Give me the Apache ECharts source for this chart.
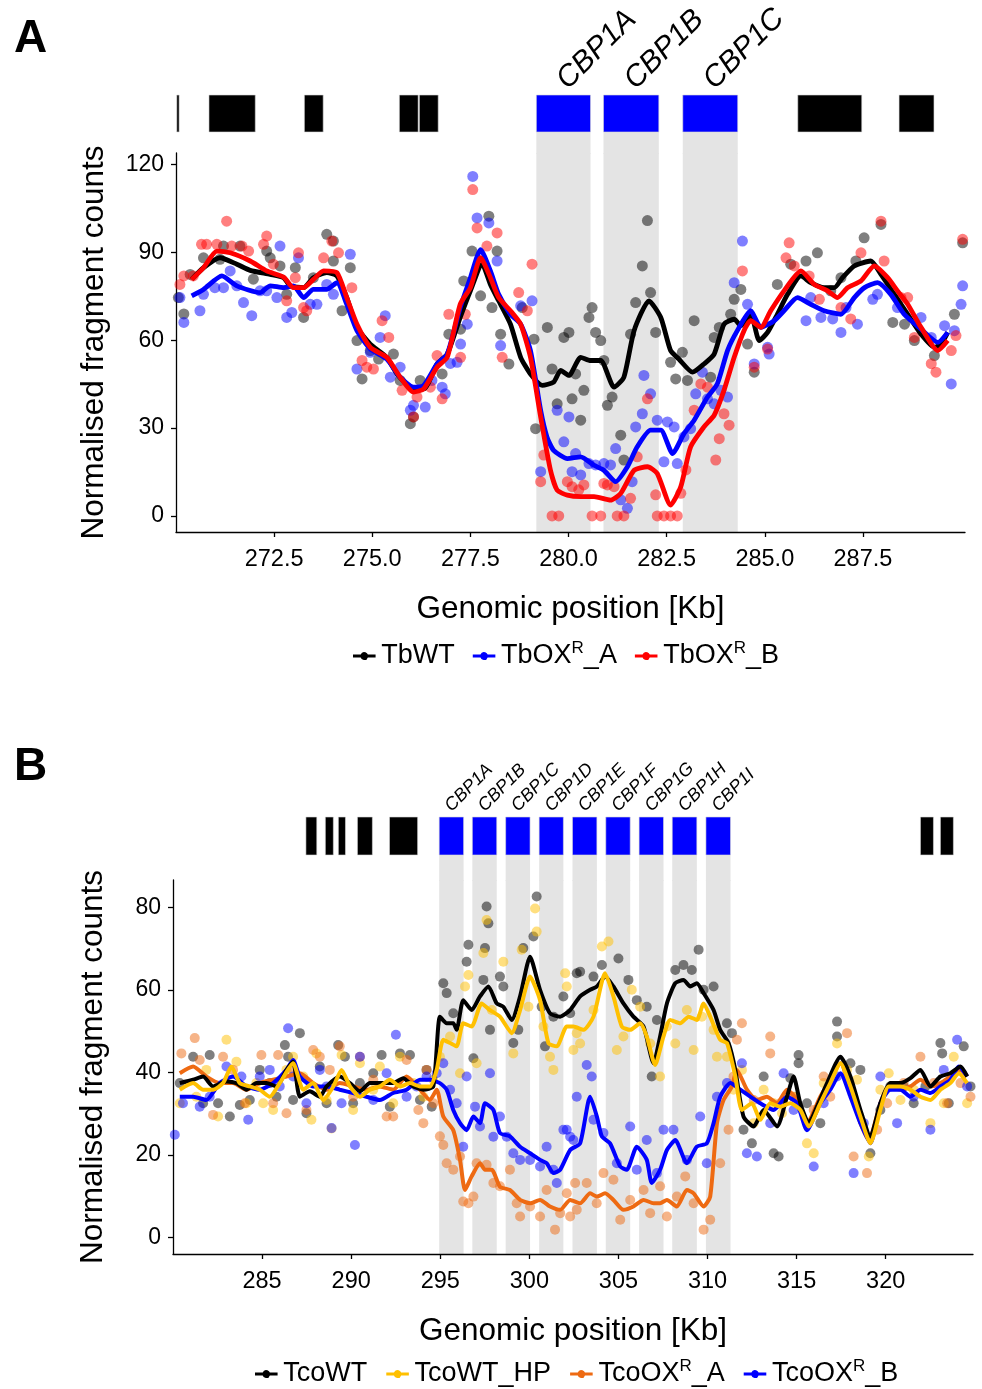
<!DOCTYPE html>
<html><head><meta charset="utf-8">
<script src="https://cdn.jsdelivr.net/npm/echarts@6/dist/echarts.min.js"></script>
<style>html,body{margin:0;padding:0;background:#fff}#c{width:982px;height:1389px}</style>
</head><body><div id="c"></div><script>
// ---------------- Panel A data ----------------
const xTicksA = [272.5, 275.0, 277.5, 280.0, 282.5, 285.0, 287.5];
const yTicksA = [0, 30, 60, 90, 120];
const blackGenesA = [[270.02,270.08],[270.84,272.02],[273.27,273.75],[275.69,276.17],[276.20,276.68],[285.84,287.47],[288.42,289.31]];
const cbpA = [[279.18,280.56,'CBP1A'],[280.89,282.30,'CBP1B'],[282.91,284.31,'CBP1C']];

const tbwtLine = [[270.40,80.8],[270.70,84.8],[271.12,88.2],[271.55,86.0],[271.89,83.9],[272.40,82.5],[272.74,81.4],[272.91,78.6],[273.25,78.0],[273.50,81.4],[273.84,83.1],[274.10,82.0],[274.35,74.6],[274.61,64.4],[274.95,58.7],[275.37,54.2],[275.63,48.5],[275.97,44.0],[276.31,43.4],[276.65,51.9],[276.91,55.3],[277.24,67.8],[277.50,76.9],[277.80,86.0],[278.01,79.1],[278.22,73.5],[278.52,65.5],[278.78,54.2],[279.03,48.5],[279.33,44.6],[279.62,45.7],[279.80,49.7],[280.01,48.0],[280.31,54.2],[280.56,53.1],[280.82,53.1],[281.16,44.0],[281.41,47.4],[281.67,63.3],[282.05,73.5],[282.35,67.8],[282.60,56.5],[282.81,53.6],[283.16,49.1],[283.45,51.9],[283.71,55.3],[283.96,65.5],[284.22,67.2],[284.39,65.0],[284.64,68.9],[284.86,59.9],[285.07,62.7],[285.32,68.9],[285.58,75.7],[285.92,82.0],[286.17,79.7],[286.51,78.0],[286.77,78.0],[286.98,81.4],[287.28,85.4],[287.70,87.1],[287.96,82.5],[288.30,75.7],[288.64,68.9],[288.98,62.1],[289.32,57.6],[289.49,58.7],[289.66,62.7]];
const tboxaLine = [[270.40,75.2],[270.70,77.4],[271.17,82.0],[271.55,78.6],[272.14,76.3],[272.40,78.6],[272.74,78.0],[272.99,78.6],[273.25,74.6],[273.50,77.4],[273.84,77.4],[274.10,79.7],[274.35,72.3],[274.61,63.3],[274.95,57.0],[275.37,53.6],[275.71,47.4],[276.05,44.0],[276.31,44.6],[276.65,51.9],[276.91,55.3],[277.24,71.2],[277.50,81.4],[277.76,91.0],[278.01,83.7],[278.22,75.7],[278.52,68.9],[278.78,65.5],[279.03,56.5],[279.29,36.0],[279.45,27.0],[279.62,22.4],[279.97,19.6],[280.31,20.2],[280.65,17.3],[280.90,15.6],[281.20,11.7],[281.50,16.8],[281.75,23.6],[282.09,29.3],[282.35,29.3],[282.65,21.3],[282.94,28.1],[283.20,32.7],[283.54,40.6],[283.79,45.1],[284.05,56.5],[284.30,63.3],[284.64,70.1],[284.90,64.4],[285.24,66.7],[285.49,70.1],[285.83,74.6],[286.17,72.3],[286.51,70.1],[286.94,68.9],[287.28,74.6],[287.54,78.0],[287.87,79.7],[288.21,75.7],[288.55,68.9],[288.98,63.8],[289.41,59.3],[289.66,62.7]];
const tboxbLine = [[270.40,80.8],[270.70,84.8],[271.04,90.5],[271.38,89.9],[271.89,87.1],[272.31,83.7],[272.74,81.6],[272.99,78.0],[273.25,78.0],[273.50,80.8],[273.76,83.7],[274.10,83.1],[274.35,74.6],[274.61,65.5],[274.95,57.6],[275.37,54.2],[275.71,47.4],[276.05,42.3],[276.31,43.4],[276.65,50.8],[276.91,54.2],[277.24,72.3],[277.50,78.0],[277.76,88.2],[278.01,81.4],[278.22,74.6],[278.52,70.1],[278.78,65.5],[279.03,54.2],[279.29,33.8],[279.54,15.6],[279.71,8.8],[279.97,7.1],[280.31,6.6],[280.65,6.6],[281.07,5.4],[281.33,7.7],[281.67,15.6],[282.01,16.8],[282.26,14.5],[282.60,3.7],[282.86,10.0],[283.11,23.6],[283.45,30.4],[283.71,34.4],[283.96,42.9],[284.22,54.2],[284.47,63.3],[284.64,66.7],[284.90,64.4],[285.15,70.1],[285.49,76.9],[285.92,83.7],[286.26,79.1],[286.60,76.9],[286.85,74.6],[287.11,78.0],[287.45,80.3],[287.79,85.4],[288.13,81.4],[288.38,76.9],[288.64,72.3],[288.98,64.4],[289.41,56.5],[289.66,59.9]];

const tbwtPts = [[270.06,74.6],[270.20,69.0],[270.36,82.5],[270.70,88.2],[271.12,87.7],[271.21,92.2],[271.63,92.2],[271.97,80.9],[272.31,90.5],[272.40,88.2],[272.65,85.4],[272.82,75.7],[273.04,84.8],[273.25,67.8],[273.50,81.4],[273.84,96.2],[274.01,93.9],[274.01,87.1],[274.23,70.1],[274.44,84.8],[274.61,59.9],[274.74,46.8],[274.95,56.5],[275.16,53.6],[275.54,55.3],[275.71,46.3],[275.97,31.5],[276.05,33.8],[276.22,46.3],[276.78,48.5],[276.95,62.1],[277.25,63.8],[277.33,80.3],[277.54,90.5],[277.76,75.2],[277.97,102.4],[278.05,71.2],[278.18,90.5],[278.27,62.1],[278.48,51.9],[278.82,71.2],[279.12,60.4],[279.16,29.8],[279.46,64.4],[279.58,50.2],[279.71,38.3],[279.88,61.0],[280.01,62.7],[280.09,40.0],[280.18,48.5],[280.31,32.7],[280.39,42.9],[280.52,67.8],[280.60,71.2],[280.69,62.7],[280.82,59.9],[280.90,53.1],[280.99,37.8],[281.11,40.6],[281.33,27.6],[281.41,19.1],[281.58,62.1],[281.71,72.9],[281.88,85.4],[282.01,100.9],[282.09,76.3],[282.22,62.7],[282.60,52.5],[282.73,46.8],[282.90,55.9],[283.03,46.3],[283.20,66.7],[283.62,47.4],[283.71,61.0],[283.84,64.4],[284.13,68.9],[284.22,74.0],[284.39,77.4],[284.56,58.7],[284.73,49.1],[285.32,79.1],[285.66,86.0],[286.05,87.1],[286.34,89.9],[286.68,76.9],[286.94,81.4],[287.32,87.1],[287.53,95.0],[287.96,99.6],[288.26,66.1],[288.56,65.5],[288.81,59.9],[289.32,54.8],[289.83,68.9],[290.04,93.3]];
const tboxaPts = [[270.10,74.6],[270.20,66.1],[270.61,70.1],[270.70,75.7],[270.99,78.0],[271.21,78.0],[271.38,83.7],[271.55,78.6],[271.72,72.9],[271.93,68.4],[272.14,76.9],[272.31,76.9],[272.57,74.6],[272.65,92.2],[272.82,67.8],[272.95,69.5],[273.12,88.2],[273.42,72.3],[273.59,72.3],[273.84,79.1],[274.01,75.7],[274.44,89.4],[274.61,50.2],[274.95,55.9],[275.20,61.0],[275.33,68.4],[275.46,47.4],[275.71,50.8],[275.97,36.1],[276.05,37.8],[276.35,37.2],[276.52,46.3],[276.78,44.0],[276.86,41.7],[276.99,52.1],[277.16,52.5],[277.25,58.7],[277.42,65.5],[277.56,116.0],[277.67,101.8],[277.97,100.1],[278.18,87.1],[278.27,58.2],[278.78,71.8],[279.07,73.5],[279.29,15.1],[279.71,36.1],[279.88,25.3],[280.01,33.8],[280.09,15.1],[280.18,21.3],[280.31,14.0],[280.52,17.9],[280.69,17.4],[280.90,17.9],[281.07,17.4],[281.20,23.0],[281.33,5.5],[281.50,2.6],[281.62,11.7],[281.71,30.4],[281.88,34.9],[281.92,48.0],[282.09,41.7],[282.26,32.7],[282.43,18.5],[282.52,32.1],[282.69,30.4],[282.77,17.9],[282.94,27.0],[283.11,29.8],[283.24,41.7],[283.41,49.1],[283.54,40.0],[283.71,38.3],[283.88,42.9],[284.05,40.6],[284.22,79.7],[284.43,93.9],[284.56,72.3],[284.73,51.9],[285.07,57.6],[285.11,55.3],[286.05,66.7],[286.17,74.6],[286.43,67.8],[286.73,67.3],[286.94,62.7],[287.07,71.2],[287.36,65.5],[287.75,74.0],[287.87,75.7],[288.38,71.2],[288.98,67.8],[289.24,61.0],[289.58,65.0],[289.75,45.1],[289.83,63.3],[290.00,72.3],[290.04,78.6]];
const tboxbPts = [[270.10,79.1],[270.20,82.0],[270.44,82.0],[270.65,92.8],[270.78,92.8],[271.04,92.8],[271.29,100.7],[271.42,92.2],[271.68,92.2],[271.85,90.5],[272.23,92.8],[272.31,95.6],[272.48,86.0],[272.82,73.5],[273.04,81.4],[273.12,89.9],[273.25,71.2],[273.33,70.1],[273.76,88.2],[273.97,93.9],[274.14,89.9],[274.48,78.0],[274.74,53.1],[274.86,50.8],[275.03,50.2],[275.25,66.7],[275.42,61.0],[275.76,42.9],[276.05,33.8],[276.14,40.6],[276.48,44.0],[276.65,54.8],[276.78,40.0],[276.95,68.9],[277.25,54.2],[277.37,68.9],[277.56,111.5],[277.67,98.4],[277.92,92.2],[278.18,96.7],[278.31,54.2],[278.73,76.3],[278.95,70.1],[279.07,86.0],[279.29,11.7],[279.37,20.8],[279.58,0],[279.75,0],[279.97,11.7],[280.09,10.0],[280.26,8.9],[280.39,10.6],[280.60,0],[280.82,0],[280.90,11.1],[280.99,10.6],[281.16,10.0],[281.24,0],[281.41,0],[281.58,6.0],[281.75,20.2],[282.01,40.0],[282.22,7.2],[282.26,0],[282.43,0],[282.60,0],[282.77,0],[282.86,7.7],[282.99,15.7],[283.20,36.1],[283.37,45.1],[283.54,44.0],[283.75,19.1],[283.84,26.4],[283.96,34.9],[284.09,31.0],[284.43,83.7],[284.73,50.8],[285.07,57.0],[285.54,88.2],[285.62,93.3],[285.75,85.4],[286.13,82.0],[286.39,74.0],[286.94,71.2],[287.19,67.3],[287.45,89.9],[287.96,100.7],[288.04,87.1],[288.47,74.6],[288.64,74.6],[288.81,61.0],[289.24,52.0],[289.36,49.1],[289.75,56.5],[289.87,61.6],[290.04,94.5]];

// ---------------- Panel B data ----------------
const xTicksB = [285, 290, 295, 300, 305, 310, 315, 320];
const yTicksB = [0, 20, 40, 60, 80];
const blackGenesB = [[287.46,288.07],[288.55,289.00],[289.28,289.68],[290.35,291.19],[292.15,293.73],[321.95,322.68],[323.07,323.80]];
const cbpB = [[294.94,296.31,'CBP1A'],[296.80,298.17,'CBP1B'],[298.67,300.04,'CBP1C'],[300.55,301.91,'CBP1D'],[302.42,303.79,'CBP1E'],[304.29,305.66,'CBP1F'],[306.16,307.53,'CBP1G'],[308.02,309.40,'CBP1H'],[309.91,311.29,'CBP1I']];

const tcowtLine = [[280.38,37.4],[281.13,38.2],[281.69,39.0],[282.25,36.6],[283.00,37.8],[283.56,37.4],[284.12,35.8],[284.68,37.4],[285.25,37.4],[285.81,36.6],[286.37,40.6],[286.74,42.6],[287.12,34.1],[287.68,35.4],[288.24,34.1],[288.62,36.6],[289.36,39.0],[289.93,37.4],[290.49,35.4],[291.05,37.4],[291.61,37.4],[292.36,37.4],[292.92,38.6],[293.49,36.6],[294.05,35.8],[294.61,36.6],[294.98,53.5],[295.36,51.9],[295.73,51.9],[295.92,50.3],[296.29,57.5],[296.76,55.1],[297.23,58.4],[297.70,60.8],[298.17,56.7],[298.54,55.9],[299.01,52.7],[299.48,58.4],[300.04,68.0],[300.60,60.0],[301.16,54.3],[301.73,53.5],[302.29,55.1],[302.85,58.4],[303.41,60.0],[303.79,60.8],[304.25,63.2],[304.72,60.8],[305.28,56.7],[305.84,53.5],[306.41,51.1],[306.97,42.2],[307.34,48.7],[307.72,56.7],[308.19,61.6],[308.65,62.4],[309.03,60.8],[309.40,61.6],[309.78,59.2],[310.34,55.1],[310.71,50.3],[311.18,47.1],[311.56,40.6],[312.02,29.3],[312.59,26.9],[313.15,30.9],[313.90,26.9],[314.46,34.1],[314.83,39.0],[315.21,32.5],[315.68,27.7],[316.14,31.7],[316.71,37.4],[317.46,43.8],[318.02,39.0],[318.58,30.9],[319.14,24.5],[319.70,32.5],[320.26,37.4],[320.83,37.4],[321.39,38.6],[321.95,40.6],[322.51,36.6],[323.07,39.0],[323.63,39.8],[324.20,41.4],[324.57,39.0]];
const tcowthpLine = [[280.38,35.8],[281.13,37.4],[281.69,35.8],[282.25,35.8],[282.81,37.4],[283.28,41.4],[283.75,37.4],[284.31,36.6],[284.87,35.8],[285.43,34.1],[285.99,37.4],[286.74,42.2],[287.31,35.8],[287.87,37.4],[288.43,33.3],[289.00,36.6],[289.46,40.6],[289.93,36.6],[290.49,34.1],[291.05,35.8],[291.61,36.6],[292.17,38.2],[292.74,36.6],[293.30,37.4],[293.86,36.6],[294.42,36.6],[294.80,40.6],[295.17,47.9],[295.55,47.1],[295.92,46.3],[296.29,51.9],[296.76,51.1],[297.32,56.7],[297.79,55.1],[298.35,53.5],[299.01,49.5],[299.48,55.1],[300.04,63.2],[300.60,57.5],[301.07,47.1],[301.54,46.3],[302.10,51.1],[302.47,51.1],[303.04,50.3],[303.60,53.5],[304.25,64.0],[304.72,58.4],[305.19,51.1],[305.66,50.3],[306.22,51.9],[306.59,48.7],[307.06,41.8],[307.53,48.7],[307.90,52.7],[308.47,51.9],[308.94,53.5],[309.40,52.7],[309.78,56.7],[310.15,53.5],[310.71,47.9],[311.09,47.1],[311.56,39.0],[311.93,30.9],[312.49,32.5],[312.96,28.5],[313.52,32.5],[314.08,31.7],[314.65,32.5],[315.21,30.9],[315.68,26.9],[316.33,32.5],[316.89,37.4],[317.46,42.2],[318.02,36.6],[318.58,29.3],[319.14,22.8],[319.70,30.9],[320.17,36.6],[320.83,36.6],[321.39,35.8],[321.95,34.1],[322.51,33.3],[323.07,35.8],[323.63,37.4],[324.10,39.8],[324.57,37.4]];
const tcooxaLine = [[280.38,39.8],[281.13,41.4],[281.87,39.0],[282.62,37.4],[283.37,37.4],[284.12,35.8],[284.87,37.4],[285.62,38.2],[286.37,39.0],[287.12,39.8],[287.87,37.4],[288.62,35.8],[289.36,37.4],[290.11,36.6],[290.86,35.8],[291.61,36.6],[292.36,35.8],[293.11,39.0],[293.86,35.8],[294.42,33.3],[294.80,35.8],[295.17,29.3],[295.73,26.0],[296.11,18.8],[296.39,11.5],[296.76,14.8],[297.23,18.0],[297.51,16.4],[297.89,16.4],[298.35,12.3],[298.91,11.5],[299.48,9.1],[300.04,8.3],[300.60,9.1],[301.16,7.5],[301.73,6.7],[302.29,9.1],[302.85,8.3],[303.41,10.7],[303.79,9.9],[304.25,10.7],[304.72,9.1],[305.28,6.7],[305.84,7.5],[306.41,9.1],[306.97,8.3],[307.34,8.3],[307.72,9.1],[308.28,7.5],[308.84,11.5],[309.22,10.7],[309.78,7.5],[310.15,9.9],[310.53,27.7],[310.90,33.3],[311.37,36.6],[311.65,40.6],[312.21,35.8],[312.77,33.3],[313.33,34.1],[313.90,32.5],[314.46,35.8],[315.02,33.3],[315.58,27.7],[316.33,34.1],[316.89,38.2],[317.46,42.2],[318.02,35.8],[318.58,27.7],[319.05,23.6],[319.70,32.5],[320.17,36.6],[320.83,35.8],[321.39,36.6],[321.95,38.2],[322.51,36.6],[323.07,37.4],[323.63,39.0],[324.20,40.6],[324.57,39.0]];
const tcooxbLine = [[280.38,34.1],[281.13,34.1],[281.87,33.3],[282.62,37.4],[283.37,39.0],[284.12,36.6],[284.87,35.8],[285.62,37.4],[286.37,40.6],[286.74,43.0],[287.12,39.0],[287.87,36.6],[288.62,36.6],[289.36,35.8],[290.11,35.0],[290.86,34.1],[291.61,33.3],[292.36,35.0],[293.11,35.8],[293.86,38.2],[294.42,38.2],[294.98,37.4],[295.36,35.8],[295.73,30.9],[296.11,27.7],[296.48,26.0],[296.86,29.3],[297.23,27.7],[297.51,32.5],[297.98,30.9],[298.35,25.3],[298.91,24.5],[299.48,22.0],[300.04,20.4],[300.60,18.8],[300.97,18.0],[301.35,15.6],[301.73,16.4],[302.29,21.2],[302.85,22.8],[303.41,34.1],[303.79,29.3],[304.07,24.5],[304.53,22.8],[305.10,17.2],[305.47,16.4],[306.03,22.0],[306.59,18.8],[306.87,13.2],[307.34,16.4],[307.72,21.2],[308.19,23.6],[308.84,18.0],[309.40,22.0],[309.96,22.8],[310.34,27.7],[310.71,34.1],[311.28,37.4],[311.84,35.8],[312.40,34.1],[312.96,32.5],[313.71,30.9],[314.46,34.1],[315.02,32.5],[315.58,26.0],[316.33,32.5],[316.89,35.8],[317.46,39.8],[318.02,34.1],[318.58,27.7],[319.14,22.8],[319.70,32.5],[320.26,35.8],[320.83,35.8],[321.39,34.1],[321.95,35.8],[322.51,35.0],[323.07,36.6],[323.63,38.2],[324.10,41.4],[324.57,39.0]];

const tcowtPts = [[280.38,37.4],[281.13,43.8],[281.69,32.5],[282.06,44.2],[282.53,32.5],[283.19,29.3],[283.75,32.1],[284.31,33.3],[284.87,40.6],[285.43,37.4],[285.81,34.1],[286.28,46.6],[286.46,43.8],[286.74,33.3],[287.12,49.5],[287.49,30.1],[288.24,41.4],[288.62,32.5],[289.27,46.6],[289.65,43.8],[290.11,32.5],[290.49,37.4],[291.24,39.8],[291.71,44.2],[292.17,31.7],[292.74,44.6],[293.30,44.2],[293.86,33.3],[294.23,40.6],[294.52,31.7],[295.17,61.6],[295.36,59.2],[295.73,54.3],[296.48,66.8],[296.58,70.9],[296.86,43.4],[297.42,62.4],[297.51,70.1],[297.70,76.1],[297.60,80.2],[297.79,50.3],[298.35,63.2],[298.54,60.8],[299.10,47.1],[299.38,50.3],[299.66,70.1],[300.23,72.9],[300.41,82.6],[300.69,55.9],[300.88,46.3],[301.35,53.5],[301.91,58.4],[302.66,64.0],[302.29,54.3],[302.85,64.4],[303.60,63.2],[304.07,66.0],[305.00,67.6],[305.56,62.4],[306.03,57.5],[306.59,55.9],[306.87,39.0],[307.16,52.7],[308.19,64.8],[308.65,66.0],[309.12,64.8],[309.50,69.7],[309.78,60.0],[310.34,60.8],[311.09,51.9],[311.37,49.5],[312.02,26.1],[312.49,22.8],[313.15,39.0],[313.71,20.4],[313.99,19.6],[314.65,38.6],[315.11,42.2],[315.11,44.2],[315.58,32.5],[316.33,27.7],[317.27,52.3],[317.27,48.7],[318.02,42.2],[318.58,40.6],[319.14,20.4],[319.70,30.9],[320.26,36.6],[321.01,36.6],[321.57,32.5],[322.23,36.6],[323.07,47.1],[323.17,44.6],[323.54,32.5],[324.38,46.3],[324.76,36.6]];
const tcowthpPts = [[280.38,32.5],[281.31,34.1],[281.87,40.6],[282.53,29.3],[283.00,47.9],[283.56,42.6],[284.12,32.5],[284.68,37.4],[285.06,32.5],[285.62,30.9],[286.37,40.6],[286.74,43.8],[287.31,39.0],[287.77,28.5],[288.05,44.6],[288.62,33.3],[288.90,26.4],[289.46,44.2],[290.11,30.9],[290.49,42.2],[291.24,35.8],[291.61,41.4],[292.36,32.5],[292.74,43.8],[293.49,37.4],[294.05,34.1],[294.61,38.2],[294.98,43.8],[295.55,48.7],[296.11,39.8],[296.39,60.8],[296.58,63.6],[297.04,42.2],[297.42,68.9],[297.60,76.9],[297.89,55.1],[298.54,66.8],[299.10,44.6],[299.57,69.7],[299.95,55.9],[300.32,79.7],[300.41,74.1],[300.79,51.1],[301.16,43.8],[301.35,40.6],[302.10,60.8],[302.66,49.5],[302.01,64.0],[302.47,45.4],[302.85,47.0],[303.60,55.1],[304.07,70.5],[304.44,71.7],[304.91,45.4],[305.28,48.7],[305.75,60.0],[306.22,55.9],[306.78,47.0],[307.34,39.0],[307.72,51.1],[308.19,47.0],[308.84,55.1],[309.22,45.4],[309.68,53.5],[310.34,50.3],[310.53,43.8],[311.09,43.8],[311.46,35.8],[311.93,40.6],[312.59,27.7],[313.15,35.8],[313.71,32.5],[314.18,30.1],[314.83,34.1],[315.58,22.8],[315.96,20.4],[316.52,37.4],[317.27,47.0],[317.83,40.6],[318.39,38.2],[319.05,19.6],[319.70,35.8],[320.17,39.8],[320.83,33.3],[321.57,35.8],[322.51,27.7],[323.26,32.5],[323.82,43.8],[324.57,32.5]];
const tcooxaPts = [[280.47,44.6],[281.22,48.3],[281.50,43.0],[282.25,29.7],[282.81,43.8],[283.37,40.6],[284.03,32.5],[284.96,44.2],[285.62,32.5],[285.90,44.2],[286.37,30.1],[286.74,40.6],[287.49,30.9],[287.87,45.4],[288.24,43.8],[288.80,40.6],[289.36,46.3],[290.11,34.1],[290.49,43.8],[291.24,38.2],[291.99,29.3],[292.36,29.3],[293.11,43.0],[293.77,30.9],[294.05,27.7],[294.23,40.6],[294.61,32.5],[294.98,24.5],[295.17,22.4],[295.36,18.0],[295.73,16.4],[296.11,19.6],[296.29,8.7],[296.58,8.3],[296.86,9.9],[297.04,18.0],[297.60,17.6],[297.98,13.2],[298.35,12.4],[298.91,16.4],[299.29,8.3],[299.48,5.1],[300.04,7.5],[300.60,5.1],[300.97,11.5],[301.44,1.9],[301.73,5.9],[302.29,5.1],[302.57,13.2],[302.10,10.7],[302.66,6.7],[303.22,13.2],[303.78,8.3],[304.16,15.6],[304.72,14.0],[305.10,4.3],[305.66,9.1],[306.41,11.5],[306.78,5.9],[307.34,12.4],[307.72,5.1],[308.28,9.9],[308.75,14.8],[309.22,8.3],[309.78,1.9],[310.15,4.3],[310.71,18.0],[311.18,26.1],[311.46,39.0],[311.93,51.9],[311.65,47.9],[312.59,33.3],[313.52,48.7],[313.52,44.6],[314.08,32.5],[314.83,34.1],[315.96,30.9],[316.52,39.0],[316.89,34.1],[317.83,49.5],[318.20,19.6],[318.95,15.6],[319.52,26.1],[320.08,32.5],[321.01,37.4],[321.95,43.8],[322.70,37.4],[323.45,32.5],[324.20,37.4],[324.76,34.1]];
const tcooxbPts = [[280.10,24.9],[280.56,32.5],[281.50,31.7],[282.06,34.1],[283.00,41.4],[283.84,39.0],[284.22,28.5],[284.87,39.0],[285.43,40.6],[285.99,36.6],[286.46,50.7],[286.74,39.0],[287.49,32.5],[288.24,40.6],[288.62,36.6],[288.90,26.5],[289.46,32.5],[290.21,22.4],[290.49,43.8],[291.24,33.3],[291.99,39.8],[292.51,49.1],[293.11,34.1],[293.67,36.6],[294.23,39.0],[294.80,39.8],[295.17,42.2],[295.55,35.8],[295.92,32.5],[296.29,22.0],[296.48,39.0],[296.95,31.7],[297.23,26.9],[297.79,39.8],[297.98,24.4],[298.35,29.3],[298.73,24.4],[299.10,20.4],[299.48,18.8],[300.04,18.8],[300.60,17.2],[300.97,22.0],[301.35,16.4],[301.54,13.2],[301.91,26.1],[302.29,24.4],[302.66,34.1],[302.10,26.1],[302.47,23.6],[303.22,41.8],[303.50,39.0],[303.60,28.5],[304.16,25.3],[304.91,18.0],[305.66,26.9],[306.03,16.4],[306.59,23.6],[307.16,15.6],[307.53,26.1],[308.09,26.1],[308.84,18.8],[309.59,29.3],[309.96,18.0],[310.53,34.1],[311.09,37.4],[311.93,42.2],[312.21,20.4],[312.77,19.6],[313.52,27.7],[314.27,39.8],[314.83,30.9],[315.96,17.2],[316.52,32.5],[317.27,39.0],[318.20,15.6],[318.77,27.7],[319.70,39.0],[320.64,27.7],[321.57,34.1],[322.51,26.1],[323.26,40.6],[324.01,47.9],[324.57,36.6]];

// ---------------- rendering ----------------
const FONT = '"Liberation Sans", Arial, sans-serif';
const BAND = '#E4E4E4';
const ICON = 'path://M0,8.5 L8.2,8.5 A4,4 0 0,1 15.8,8.5 L24,8.5 L24,11.5 L15.8,11.5 A4,4 0 0,1 8.2,11.5 L0,11.5 Z';

function geneSeries(idx, blacks, cbps, rectH, fontSize, dx, dy) {
  const genes = blacks.map(g => [g[0], g[1], null]).concat(cbps);
  return {
    type: 'custom', xAxisIndex: idx, yAxisIndex: idx, silent: true, clip: false, z: 1,
    data: genes.map(g => [g[0], g[1]]), encode: { x: [0, 1] },
    renderItem: (params, api) => {
      const g = genes[params.dataIndex];
      const cs = params.coordSys;
      const x0 = api.coord([api.value(0), 0.5])[0];
      const x1 = api.coord([api.value(1), 0.5])[0];
      const ch = [];
      if (g[2]) {
        ch.push({ type: 'rect', shape: { x: x0, y: cs.y + rectH, width: x1 - x0, height: cs.height - rectH + 1 }, style: { fill: BAND } });
        ch.push({ type: 'text', x: (x0 + x1) / 2 + dx, y: cs.y + dy, rotation: Math.PI / 4,
          style: { text: g[2], font: 'italic ' + fontSize + 'px ' + FONT, fill: '#000', textAlign: 'left', textVerticalAlign: 'bottom' } });
      }
      ch.push({ type: 'rect', shape: { x: x0, y: cs.y, width: x1 - x0, height: rectH },
        style: { fill: g[2] ? '#0000FF' : '#000', stroke: '#d8d8d8', lineWidth: 0.6 } });
      return { type: 'group', children: ch };
    }
  };
}
function bandSeries(idx, cbps) {
  return {
    type: 'custom', xAxisIndex: idx, yAxisIndex: idx, silent: true, z: 0,
    data: cbps.map(g => [g[0], g[1]]), encode: { x: [0, 1] },
    renderItem: (params, api) => {
      const cs = params.coordSys;
      const x0 = api.coord([api.value(0), 0])[0];
      const x1 = api.coord([api.value(1), 0])[0];
      return { type: 'rect', shape: { x: x0, y: cs.y, width: x1 - x0, height: cs.height }, style: { fill: BAND } };
    }
  };
}
function pts(idx, name, data, color, size) {
  return { type: 'scatter', name: name + ' pts', xAxisIndex: idx, yAxisIndex: idx, data, symbolSize: size, silent: true, z: 2,
    itemStyle: { color, opacity: 0.5 } };
}
function line(idx, name, data, color, w) {
  return { type: 'line', name, xAxisIndex: idx, yAxisIndex: idx, data, showSymbol: false, silent: true, z: 3, smooth: 0.2,
    itemStyle: { color }, lineStyle: { color, width: w } };
}
function hiddenX(idx, min, max) {
  return { type: 'value', gridIndex: idx, min, max, show: false };
}
function hiddenY(idx) { return { type: 'value', gridIndex: idx, min: 0, max: 1, show: false }; }
function mainX(idx, min, max, ticks, fmt, gap) {
  return { type: 'value', gridIndex: idx, min, max, splitLine: { show: false },
    axisLine: { onZero: false, lineStyle: { color: '#000', width: 1.3 } },
    axisTick: { customValues: ticks, length: 5, lineStyle: { color: '#000', width: 1.3 } },
    axisLabel: { customValues: ticks, formatter: fmt, color: '#000', fontSize: 23.5, fontFamily: FONT, margin: 16 },
    name: 'Genomic position [Kb]', nameLocation: 'middle', nameGap: gap,
    nameTextStyle: { color: '#000', fontSize: 31.5, fontFamily: FONT } };
}
function mainY(idx, min, max, ticks, gap) {
  return { type: 'value', gridIndex: idx, min, max, splitLine: { show: false },
    axisLine: { show: true, onZero: false, lineStyle: { color: '#000', width: 1.3 } },
    axisTick: { show: true, customValues: ticks, length: 5, lineStyle: { color: '#000', width: 1.3 } },
    axisLabel: { customValues: ticks, color: '#000', fontSize: 23, fontFamily: FONT, margin: 12 },
    name: 'Normalised fragment counts', nameLocation: 'middle', nameGap: gap, nameRotate: 90,
    nameTextStyle: { color: '#000', fontSize: 31.5, fontFamily: FONT } };
}
const supFmt = n => n.replace('R_', '{sup|R}_');
function legend(names, left, top, gap) {
  return { data: names, left, top, orient: 'horizontal', icon: ICON, itemWidth: 24, itemHeight: 8, itemGap: gap,
    selectedMode: false, formatter: supFmt,
    textStyle: { color: '#000', fontSize: 27, fontFamily: FONT, lineHeight: 32,
      rich: { sup: { fontSize: 17, fontFamily: FONT, lineHeight: 17, verticalAlign: 'top', color: '#000' } } } };
}

const chart = echarts.init(document.getElementById('c'), null, { renderer: 'canvas' });
chart.setOption({
  animation: false,
  backgroundColor: '#fff',
  grid: [
    { left: 176, top: 95, width: 789, height: 58 },
    { left: 176, top: 153, width: 789, height: 379 },
    { left: 173, top: 817, width: 800, height: 63 },
    { left: 173, top: 880, width: 800, height: 374 }
  ],
  xAxis: [
    hiddenX(0, 270, 290.1),
    mainX(1, 270, 290.1, xTicksA, v => v.toFixed(1), 61),
    hiddenX(2, 280, 324.9),
    mainX(3, 280, 324.9, xTicksB, v => String(v), 61)
  ],
  yAxis: [
    hiddenY(0),
    mainY(1, -5.5, 124, yTicksA, 66),
    hiddenY(2),
    mainY(3, -4, 86.6, yTicksB, 64)
  ],
  legend: [
    legend(['TbWT', 'TbOXR_A', 'TbOXR_B'], 348, 635, 18),
    legend(['TcoWT', 'TcoWT_HP', 'TcoOXR_A', 'TcoOXR_B'], 250, 1353, 19)
  ],
  graphic: [
    { type: 'text', left: 14, top: 16, style: { text: 'A', font: 'bold 46px ' + FONT, fill: '#000' } },
    { type: 'text', left: 14, top: 744, style: { text: 'B', font: 'bold 46px ' + FONT, fill: '#000' } }
  ],
  series: [
    geneSeries(0, blackGenesA, cbpA, 37, 30, 9, 0),
    bandSeries(1, cbpA),
    pts(1, 'TbWT', tbwtPts, '#000000', 11),
    pts(1, 'TbOXR_A', tboxaPts, '#0000FF', 11),
    pts(1, 'TbOXR_B', tboxbPts, '#FF0000', 11),
    line(1, 'TbWT', tbwtLine, '#000000', 4.8),
    line(1, 'TbOXR_A', tboxaLine, '#0000FF', 4.8),
    line(1, 'TbOXR_B', tboxbLine, '#FF0000', 4.8),

    geneSeries(2, blackGenesB, cbpB, 38, 18, 3, -2),
    bandSeries(3, cbpB),
    pts(3, 'TcoWT', tcowtPts, '#000000', 10),
    pts(3, 'TcoWT_HP', tcowthpPts, '#FFC000', 10),
    pts(3, 'TcoOXR_A', tcooxaPts, '#EE6A12', 10),
    pts(3, 'TcoOXR_B', tcooxbPts, '#0000FF', 10),
    line(3, 'TcoOXR_A', tcooxaLine, '#EE6A12', 4),
    line(3, 'TcoOXR_B', tcooxbLine, '#0000FF', 4),
    line(3, 'TcoWT', tcowtLine, '#000000', 4),
    line(3, 'TcoWT_HP', tcowthpLine, '#FFC000', 4)
  ]
});
</script></body></html>
